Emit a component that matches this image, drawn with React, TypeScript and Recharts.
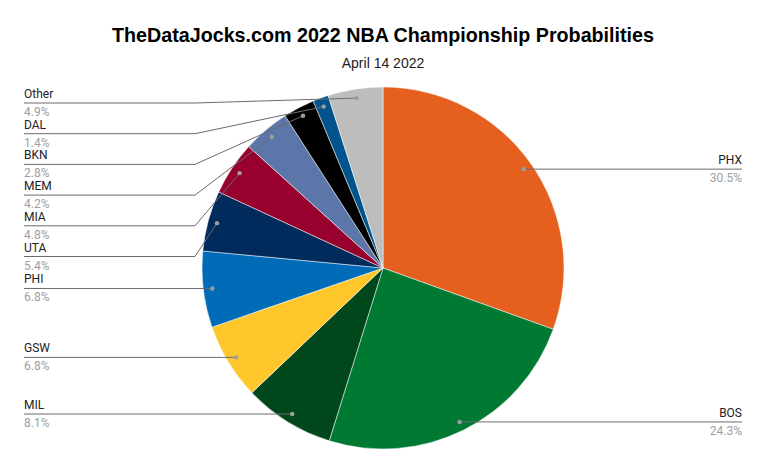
import React from 'react';
import { PieChart, Pie, Cell } from 'recharts';

const teams = ['PHX', 'BOS', 'MIL', 'GSW', 'PHI', 'UTA', 'MIA', 'MEM', 'BKN', 'DAL', 'Other'];
const probabilities = [30.5, 24.3, 8.1, 6.8, 6.8, 5.4, 4.8, 4.2, 2.8, 1.4, 4.9];
const teamColors = [
  '#E5601F', '#007A33', '#00471B', '#FFC72C', '#006BB6', '#002B5C',
  '#98002E', '#5D76A9', '#000000', '#00538C', '#BDBDBD',
];

const W = 766;
const H = 474;
const CX = 383;
const CY = 268;
const R = 181;
const DOT_R = R * 0.95;
const LEFT_X = 24;
const LEFT_ELBOW = 195;
const RIGHT_X = 742;
const RIGHT_ELBOW = 571;
const LABEL_TOP = 103;
const LABEL_GAP = 30.7;
const RAD = Math.PI / 180;

const data = teams.map((name, i) => ({ name, value: probabilities[i] }));

// work out where each label sits: dot inside the slice, labels stacked per side
function layoutLabels(values: number[]) {
  const total = values.reduce((a, b) => a + b, 0);
  let cum = 0;
  const pts = values.map((v) => {
    const mid = 90 - ((cum + v / 2) / total) * 360;
    cum += v;
    const x = CX + DOT_R * Math.cos(mid * RAD);
    const y = CY - DOT_R * Math.sin(mid * RAD);
    return { x, y, left: x < CX, ly: y };
  });
  [true, false].forEach((side) => {
    const idx = pts.map((p, i) => i).filter((i) => pts[i].left === side);
    idx.sort((a, b) => pts[a].y - pts[b].y);
    let prev = -Infinity;
    idx.forEach((i) => {
      const ly = Math.max(pts[i].y, prev + LABEL_GAP, LABEL_TOP);
      pts[i].ly = ly;
      prev = ly;
    });
  });
  return pts;
}

const layout = layoutLabels(probabilities);

const renderLabel = (props: any) => {
  const { index } = props;
  const p = layout[index];
  const name = teams[index];
  const pct = `${probabilities[index].toFixed(1)}%`;
  const endX = p.left ? LEFT_X : RIGHT_X;
  const elbow = p.left ? LEFT_ELBOW : RIGHT_ELBOW;
  const anchor = p.left ? 'start' : 'end';
  return (
    <g key={`lbl-${index}`}>
      <polyline
        points={`${p.x},${p.y} ${elbow},${p.ly} ${endX},${p.ly}`}
        fill="none"
        stroke="#6b6b6b"
        strokeWidth={1}
      />
      <circle cx={p.x} cy={p.y} r={2.2} fill="#9e9e9e" />
      <text x={endX} y={p.ly - 5} textAnchor={anchor} fontSize={12} fill="#222" fontFamily="Roboto, Arial, sans-serif">
        {name}
      </text>
      <text x={endX} y={p.ly + 13} textAnchor={anchor} fontSize={12} fill="#9e9e9e" fontFamily="Roboto, Arial, sans-serif">
        {pct}
      </text>
    </g>
  );
};

export default function App() {
  return (
    <div style={{ position: 'absolute', left: 0, top: 0, width: W, height: H, background: '#fff' }}>
      <div
        style={{
          position: 'absolute', left: 0, top: 24, width: W, textAlign: 'center',
          fontFamily: '"Liberation Sans", Arial, sans-serif', fontWeight: 'bold', fontSize: 19.7, color: '#000',
        }}
      >
        TheDataJocks.com 2022 NBA Championship Probabilities
      </div>
      <div
        style={{
          position: 'absolute', left: 0, top: 55, width: W, textAlign: 'center',
          fontFamily: '"Liberation Sans", Arial, sans-serif', fontSize: 14, color: '#222',
        }}
      >
        April 14 2022
      </div>
      <PieChart
        width={W}
        height={H}
        margin={{ top: 0, right: 0, bottom: 0, left: 0 }}
        style={{ position: 'absolute', left: 0, top: 0 }}
      >
        <Pie
          data={data}
          dataKey="value"
          nameKey="name"
          cx={CX}
          cy={CY}
          outerRadius={R}
          startAngle={90}
          endAngle={-270}
          stroke="#fff"
          strokeWidth={0.5}
          label={renderLabel}
          labelLine={false}
          isAnimationActive={false}
        >
          {data.map((entry, i) => (
            <Cell key={`cell-${i}`} fill={teamColors[i]} />
          ))}
        </Pie>
      </PieChart>
    </div>
  );
}
